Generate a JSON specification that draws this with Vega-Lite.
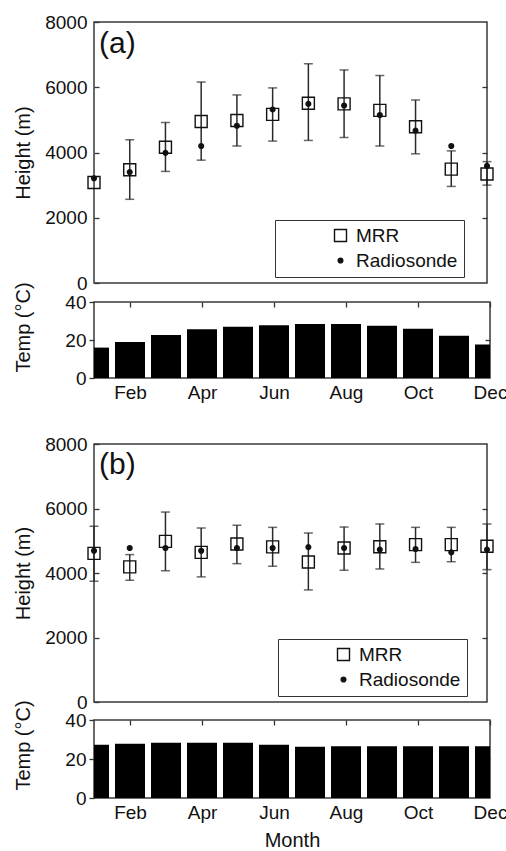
{
  "$schema": "https://vega.github.io/schema/vega-lite/v6.json",
  "padding": {"left": 12, "top": 12, "right": 0, "bottom": 0},
  "background": "white",
  "config": {
    "font": "Liberation Sans",
    "view": {"stroke": "#3a3a3a", "strokeWidth": 1.5},
    "axis": {"domain": false, "grid": false, "labelFontSize": 19, "labelColor": "#111", "titleFontSize": 20, "titleFontWeight": "normal", "titleColor": "#111", "tickColor": "#333", "tickWidth": 1.3},
    "legend": {"labelFontSize": 19, "labelColor": "#111", "strokeColor": "#333", "fillColor": "white", "padding": 6, "rowPadding": 5, "symbolOffset": 50, "labelOffset": 6, "symbolStrokeColor": "#111", "symbolStrokeWidth": 1.4}
  },
  "resolve": {
    "scale": {"shape": "independent", "size": "independent", "fill": "independent", "stroke": "independent"},
    "legend": {"shape": "independent", "size": "independent", "fill": "independent", "stroke": "independent"}
  },
  "datasets": {
    "hA": [
      {"month": "Jan", "series": "MRR", "value": 3080},
      {"month": "Feb", "series": "MRR", "value": 3470, "lo": 2565, "hi": 4390},
      {"month": "Mar", "series": "MRR", "value": 4160, "lo": 3420, "hi": 4920},
      {"month": "Apr", "series": "MRR", "value": 4950, "lo": 3765, "hi": 6160},
      {"month": "May", "series": "MRR", "value": 4980, "lo": 4200, "hi": 5765},
      {"month": "Jun", "series": "MRR", "value": 5170, "lo": 4350, "hi": 5980},
      {"month": "Jul", "series": "MRR", "value": 5510, "lo": 4370, "hi": 6720},
      {"month": "Aug", "series": "MRR", "value": 5490, "lo": 4460, "hi": 6530},
      {"month": "Sep", "series": "MRR", "value": 5290, "lo": 4200, "hi": 6360},
      {"month": "Oct", "series": "MRR", "value": 4790, "lo": 3960, "hi": 5610},
      {"month": "Nov", "series": "MRR", "value": 3490, "lo": 2960, "hi": 4050},
      {"month": "Dec", "series": "MRR", "value": 3340, "lo": 3000, "hi": 3720},
      {"month": "Jan", "series": "Radiosonde", "value": 3210},
      {"month": "Feb", "series": "Radiosonde", "value": 3400},
      {"month": "Mar", "series": "Radiosonde", "value": 3990},
      {"month": "Apr", "series": "Radiosonde", "value": 4200},
      {"month": "May", "series": "Radiosonde", "value": 4820},
      {"month": "Jun", "series": "Radiosonde", "value": 5320},
      {"month": "Jul", "series": "Radiosonde", "value": 5490},
      {"month": "Aug", "series": "Radiosonde", "value": 5440},
      {"month": "Sep", "series": "Radiosonde", "value": 5150},
      {"month": "Oct", "series": "Radiosonde", "value": 4670},
      {"month": "Nov", "series": "Radiosonde", "value": 4200},
      {"month": "Dec", "series": "Radiosonde", "value": 3590}
    ],
    "hB": [
      {"month": "Jan", "series": "MRR", "value": 4610, "lo": 3745, "hi": 5450},
      {"month": "Feb", "series": "MRR", "value": 4190, "lo": 3775, "hi": 4570},
      {"month": "Mar", "series": "MRR", "value": 4980, "lo": 4070, "hi": 5890},
      {"month": "Apr", "series": "MRR", "value": 4640, "lo": 3880, "hi": 5395},
      {"month": "May", "series": "MRR", "value": 4900, "lo": 4290, "hi": 5480},
      {"month": "Jun", "series": "MRR", "value": 4810, "lo": 4210, "hi": 5415},
      {"month": "Jul", "series": "MRR", "value": 4340, "lo": 3475, "hi": 5240},
      {"month": "Aug", "series": "MRR", "value": 4775, "lo": 4085, "hi": 5425},
      {"month": "Sep", "series": "MRR", "value": 4815, "lo": 4125, "hi": 5520},
      {"month": "Oct", "series": "MRR", "value": 4880, "lo": 4330, "hi": 5415},
      {"month": "Nov", "series": "MRR", "value": 4880, "lo": 4350, "hi": 5415},
      {"month": "Dec", "series": "MRR", "value": 4830, "lo": 4105, "hi": 5520},
      {"month": "Jan", "series": "Radiosonde", "value": 4690},
      {"month": "Feb", "series": "Radiosonde", "value": 4775},
      {"month": "Mar", "series": "Radiosonde", "value": 4775},
      {"month": "Apr", "series": "Radiosonde", "value": 4690},
      {"month": "May", "series": "Radiosonde", "value": 4775},
      {"month": "Jun", "series": "Radiosonde", "value": 4775},
      {"month": "Jul", "series": "Radiosonde", "value": 4805},
      {"month": "Aug", "series": "Radiosonde", "value": 4775},
      {"month": "Sep", "series": "Radiosonde", "value": 4725},
      {"month": "Oct", "series": "Radiosonde", "value": 4745},
      {"month": "Nov", "series": "Radiosonde", "value": 4640},
      {"month": "Dec", "series": "Radiosonde", "value": 4725}
    ],
    "tA": [
      {"month": "Jan", "temp": 16.0}, {"month": "Feb", "temp": 18.9}, {"month": "Mar", "temp": 22.6},
      {"month": "Apr", "temp": 25.6}, {"month": "May", "temp": 27.0}, {"month": "Jun", "temp": 27.8},
      {"month": "Jul", "temp": 28.4}, {"month": "Aug", "temp": 28.4}, {"month": "Sep", "temp": 27.5},
      {"month": "Oct", "temp": 25.9}, {"month": "Nov", "temp": 22.2}, {"month": "Dec", "temp": 17.6}
    ],
    "tB": [
      {"month": "Jan", "temp": 27.3}, {"month": "Feb", "temp": 27.8}, {"month": "Mar", "temp": 28.3},
      {"month": "Apr", "temp": 28.3}, {"month": "May", "temp": 28.3}, {"month": "Jun", "temp": 27.3},
      {"month": "Jul", "temp": 26.3}, {"month": "Aug", "temp": 26.6}, {"month": "Sep", "temp": 26.6},
      {"month": "Oct", "temp": 26.6}, {"month": "Nov", "temp": 26.6}, {"month": "Dec", "temp": 26.6}
    ],
    "labA": [{"label": "(a)"}],
    "labB": [{"label": "(b)"}]
  },
  "spacing": 31,
  "vconcat": [
    {
      "bounds": "flush",
      "spacing": 19,
      "vconcat": [
        {
          "width": 393, "height": 261,
          "data": {"name": "hA"},
          "layer": [
            {
              "transform": [{"filter": {"field": "lo", "valid": true}}],
              "mark": {"type": "rule", "color": "#2a2a2a", "strokeWidth": 1.5},
              "encoding": {
                "x": {"field": "month", "type": "ordinal", "scale": {"type": "point", "padding": 0, "domain": ["Jan","Feb","Mar","Apr","May","Jun","Jul","Aug","Sep","Oct","Nov","Dec"]}, "axis": null},
                "y": {"field": "lo", "type": "quantitative", "scale": {"domain": [0, 8000], "nice": false}, "axis": {"orient": "left", "values": [0, 2000, 4000, 6000, 8000], "format": "d", "offset": -5, "tickSize": 5, "labelPadding": 7, "title": "Height (m)", "titleX": -76, "titleY": 130.5, "titleAngle": -90, "titleAlign": "center", "titleBaseline": "middle"}},
                "y2": {"field": "hi"}
              }
            },
            {
              "transform": [{"filter": {"field": "lo", "valid": true}}],
              "mark": {"type": "tick", "color": "#2a2a2a", "size": 9, "thickness": 1.5},
              "encoding": {
                "x": {"field": "month", "type": "ordinal", "axis": null},
                "y": {"field": "lo", "type": "quantitative", "axis": null}
              }
            },
            {
              "transform": [{"filter": {"field": "lo", "valid": true}}],
              "mark": {"type": "tick", "color": "#2a2a2a", "size": 9, "thickness": 1.5},
              "encoding": {
                "x": {"field": "month", "type": "ordinal", "axis": null},
                "y": {"field": "hi", "type": "quantitative", "axis": null}
              }
            },
            {
              "mark": {"type": "point", "filled": true, "strokeWidth": 1.4, "opacity": 1},
              "encoding": {
                "x": {"field": "month", "type": "ordinal", "axis": null},
                "y": {"field": "value", "type": "quantitative", "axis": {"orient": "right", "values": [2000, 4000, 6000], "offset": -5, "tickSize": 5, "labels": false, "title": null}},
                "shape": {"field": "series", "type": "nominal", "scale": {"domain": ["MRR", "Radiosonde"], "range": ["square", "circle"]}, "legend": {"title": null, "orient": "none", "legendX": 181, "legendY": 198, "labelExpr": "datum.label + '\u00a0\u00a0'"}},
                "size": {"field": "series", "type": "nominal", "scale": {"domain": ["MRR", "Radiosonde"], "range": [144, 22]}, "legend": {"title": null, "orient": "none", "legendX": 181, "legendY": 198, "labelExpr": "datum.label + '\u00a0\u00a0'"}},
                "fill": {"field": "series", "type": "nominal", "scale": {"domain": ["MRR", "Radiosonde"], "range": ["transparent", "#111"]}, "legend": {"title": null, "orient": "none", "legendX": 181, "legendY": 198, "labelExpr": "datum.label + '\u00a0\u00a0'"}},
                "stroke": {"field": "series", "type": "nominal", "scale": {"domain": ["MRR", "Radiosonde"], "range": ["#111", "#111"]}, "legend": {"title": null, "orient": "none", "legendX": 181, "legendY": 198, "labelExpr": "datum.label + '\u00a0\u00a0'"}}
              }
            },
            {
              "data": {"name": "labA"},
              "mark": {"type": "text", "align": "left", "baseline": "top", "dx": 5, "fontSize": 30, "color": "#111"},
              "encoding": {
                "x": {"datum": "Jan", "type": "ordinal", "axis": null},
                "y": {"datum": 7780, "type": "quantitative", "axis": null},
                "text": {"field": "label"}
              }
            }
          ],
          "resolve": {"axis": {"y": "independent"}}
        },
        {
          "width": 396, "height": 76,
          "data": {"name": "tA"},
          "layer": [
            {
              "mark": {"type": "bar", "size": 30, "color": "#000", "clip": true},
              "encoding": {
                "x": {"field": "month", "type": "ordinal", "scale": {"type": "point", "padding": 0, "domain": ["Jan","Feb","Mar","Apr","May","Jun","Jul","Aug","Sep","Oct","Nov","Dec"]}, "axis": {"orient": "bottom", "values": ["Feb","Apr","Jun","Aug","Oct","Dec"], "ticks": false, "labelAngle": 0, "labelAlign": "center", "labelBaseline": "top", "labelPadding": 5, "title": null}},
                "y": {"field": "temp", "type": "quantitative", "scale": {"domain": [0, 40], "nice": false}, "axis": {"orient": "left", "values": [0, 20, 40], "tickSize": 5, "labelPadding": 3, "title": "Temp (°C)", "titleX": -71, "titleY": 25, "titleAngle": -90, "titleAlign": "center", "titleBaseline": "middle"}}
              }
            },
            {
              "mark": {"type": "point", "opacity": 0},
              "encoding": {
                "x": {"field": "month", "type": "ordinal", "axis": {"orient": "top", "values": ["Feb","Apr","Jun","Aug","Oct","Dec"], "offset": -5, "tickSize": 5, "labels": false, "title": null}},
                "y": {"field": "temp", "type": "quantitative", "axis": {"orient": "right", "values": [20], "offset": -5, "tickSize": 5, "labels": false, "title": null}}
              }
            }
          ],
          "resolve": {"axis": {"x": "independent", "y": "independent"}}
        }
      ]
    },
    {
      "bounds": "flush",
      "spacing": 18,
      "vconcat": [
        {
          "width": 393, "height": 258,
          "data": {"name": "hB"},
          "layer": [
            {
              "transform": [{"filter": {"field": "lo", "valid": true}}],
              "mark": {"type": "rule", "color": "#2a2a2a", "strokeWidth": 1.5},
              "encoding": {
                "x": {"field": "month", "type": "ordinal", "scale": {"type": "point", "padding": 0, "domain": ["Jan","Feb","Mar","Apr","May","Jun","Jul","Aug","Sep","Oct","Nov","Dec"]}, "axis": null},
                "y": {"field": "lo", "type": "quantitative", "scale": {"domain": [0, 8000], "nice": false}, "axis": {"orient": "left", "values": [0, 2000, 4000, 6000, 8000], "format": "d", "offset": -5, "tickSize": 5, "labelPadding": 7, "title": "Height (m)", "titleX": -76, "titleY": 129, "titleAngle": -90, "titleAlign": "center", "titleBaseline": "middle"}},
                "y2": {"field": "hi"}
              }
            },
            {
              "transform": [{"filter": {"field": "lo", "valid": true}}],
              "mark": {"type": "tick", "color": "#2a2a2a", "size": 9, "thickness": 1.5},
              "encoding": {
                "x": {"field": "month", "type": "ordinal", "axis": null},
                "y": {"field": "lo", "type": "quantitative", "axis": null}
              }
            },
            {
              "transform": [{"filter": {"field": "lo", "valid": true}}],
              "mark": {"type": "tick", "color": "#2a2a2a", "size": 9, "thickness": 1.5},
              "encoding": {
                "x": {"field": "month", "type": "ordinal", "axis": null},
                "y": {"field": "hi", "type": "quantitative", "axis": null}
              }
            },
            {
              "mark": {"type": "point", "filled": true, "strokeWidth": 1.4, "opacity": 1},
              "encoding": {
                "x": {"field": "month", "type": "ordinal", "axis": null},
                "y": {"field": "value", "type": "quantitative", "axis": {"orient": "right", "values": [2000, 4000, 6000], "offset": -5, "tickSize": 5, "labels": false, "title": null}},
                "shape": {"field": "series", "type": "nominal", "scale": {"domain": ["MRR", "Radiosonde"], "range": ["square", "circle"]}, "legend": {"title": null, "orient": "none", "legendX": 184, "legendY": 195, "labelExpr": "datum.label + '\u00a0\u00a0'"}},
                "size": {"field": "series", "type": "nominal", "scale": {"domain": ["MRR", "Radiosonde"], "range": [144, 22]}, "legend": {"title": null, "orient": "none", "legendX": 184, "legendY": 195, "labelExpr": "datum.label + '\u00a0\u00a0'"}},
                "fill": {"field": "series", "type": "nominal", "scale": {"domain": ["MRR", "Radiosonde"], "range": ["transparent", "#111"]}, "legend": {"title": null, "orient": "none", "legendX": 184, "legendY": 195, "labelExpr": "datum.label + '\u00a0\u00a0'"}},
                "stroke": {"field": "series", "type": "nominal", "scale": {"domain": ["MRR", "Radiosonde"], "range": ["#111", "#111"]}, "legend": {"title": null, "orient": "none", "legendX": 184, "legendY": 195, "labelExpr": "datum.label + '\u00a0\u00a0'"}}
              }
            },
            {
              "data": {"name": "labB"},
              "mark": {"type": "text", "align": "left", "baseline": "top", "dx": 5, "fontSize": 30, "color": "#111"},
              "encoding": {
                "x": {"datum": "Jan", "type": "ordinal", "axis": null},
                "y": {"datum": 7800, "type": "quantitative", "axis": null},
                "text": {"field": "label"}
              }
            }
          ],
          "resolve": {"axis": {"y": "independent"}}
        },
        {
          "width": 396, "height": 78,
          "data": {"name": "tB"},
          "layer": [
            {
              "mark": {"type": "bar", "size": 30, "color": "#000", "clip": true},
              "encoding": {
                "x": {"field": "month", "type": "ordinal", "scale": {"type": "point", "padding": 0, "domain": ["Jan","Feb","Mar","Apr","May","Jun","Jul","Aug","Sep","Oct","Nov","Dec"]}, "axis": {"orient": "bottom", "values": ["Feb","Apr","Jun","Aug","Oct","Dec"], "ticks": false, "labelAngle": 0, "labelAlign": "center", "labelBaseline": "top", "labelPadding": 5, "title": "Month", "titlePadding": 8}},
                "y": {"field": "temp", "type": "quantitative", "scale": {"domain": [0, 40], "nice": false}, "axis": {"orient": "left", "values": [0, 20, 40], "tickSize": 5, "labelPadding": 3, "title": "Temp (°C)", "titleX": -71, "titleY": 25, "titleAngle": -90, "titleAlign": "center", "titleBaseline": "middle"}}
              }
            },
            {
              "mark": {"type": "point", "opacity": 0},
              "encoding": {
                "x": {"field": "month", "type": "ordinal", "axis": {"orient": "top", "values": ["Feb","Apr","Jun","Aug","Oct","Dec"], "offset": -5, "tickSize": 5, "labels": false, "title": null}},
                "y": {"field": "temp", "type": "quantitative", "axis": {"orient": "right", "values": [20], "offset": -5, "tickSize": 5, "labels": false, "title": null}}
              }
            }
          ],
          "resolve": {"axis": {"x": "independent", "y": "independent"}}
        }
      ]
    }
  ]
}
